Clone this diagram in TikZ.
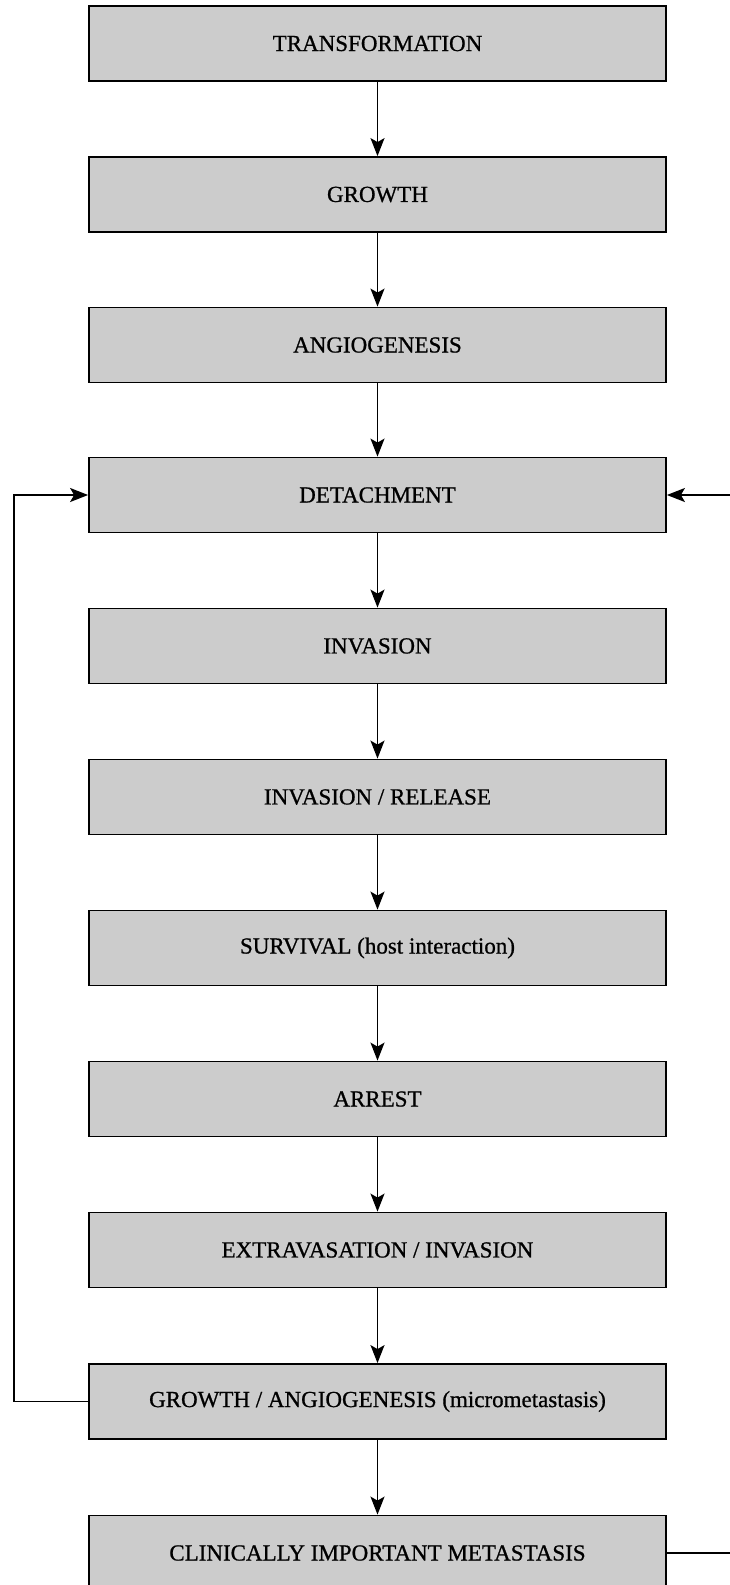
\documentclass[tikz,border=0pt]{standalone}
\usepackage{fontspec}
\setmainfont{Liberation Serif}[FakeBold=0.8]
\usetikzlibrary{arrows.meta}
\begin{document}
\begin{tikzpicture}[x=1pt,y=-1pt,
  stage/.style={draw=black, line width=1.8pt, fill=black!20, minimum width=577pt,
    minimum height=75pt, inner sep=0pt, font=\fontsize{23}{27}\selectfont},
  flow/.style={line width=1.7pt, -{Stealth[length=18pt,width=14pt,inset=4pt]}},
  ]
\useasboundingbox (0,0) rectangle (730,1585);
\node[stage] (s1)  at (377.5,43.5)   {TRANSFORMATION};
\node[stage] (s2)  at (377.5,194.5)  {GROWTH};
\node[stage] (s3)  at (377.5,345)    {ANGIOGENESIS};
\node[stage] (s4)  at (377.5,495)    {DETACHMENT};
\node[stage] (s5)  at (377.5,646)    {INVASION};
\node[stage] (s6)  at (377.5,797)    {INVASION / RELEASE};
\node[stage] (s7)  at (377.5,948)    {SURVIVAL (host interaction)};
\node[stage] (s8)  at (377.5,1099)   {ARREST};
\node[stage] (s9)  at (377.5,1250)   {EXTRAVASATION / INVASION};
\node[stage] (s10) at (377.5,1401.5) {GROWTH / ANGIOGENESIS (micrometastasis)};
\node[stage] (s11) at (377.5,1553)   {CLINICALLY IMPORTANT METASTASIS};
\foreach \a/\b in {s1/s2,s2/s3,s3/s4,s4/s5,s5/s6,s6/s7,s7/s8,s8/s9,s9/s10,s10/s11}
  \draw[flow] (\a.south) -- (\b.north);
\coordinate (lx) at (14,0);
\coordinate (rx) at (734,0);
\draw[flow] (s10.west) -- (s10.west -| lx) -- (s4.west -| lx) -- (s4.west);
\draw[flow] (s11.east) -- (s11.east -| rx) -- (s4.east -| rx) -- (s4.east);
\end{tikzpicture}
\end{document}
